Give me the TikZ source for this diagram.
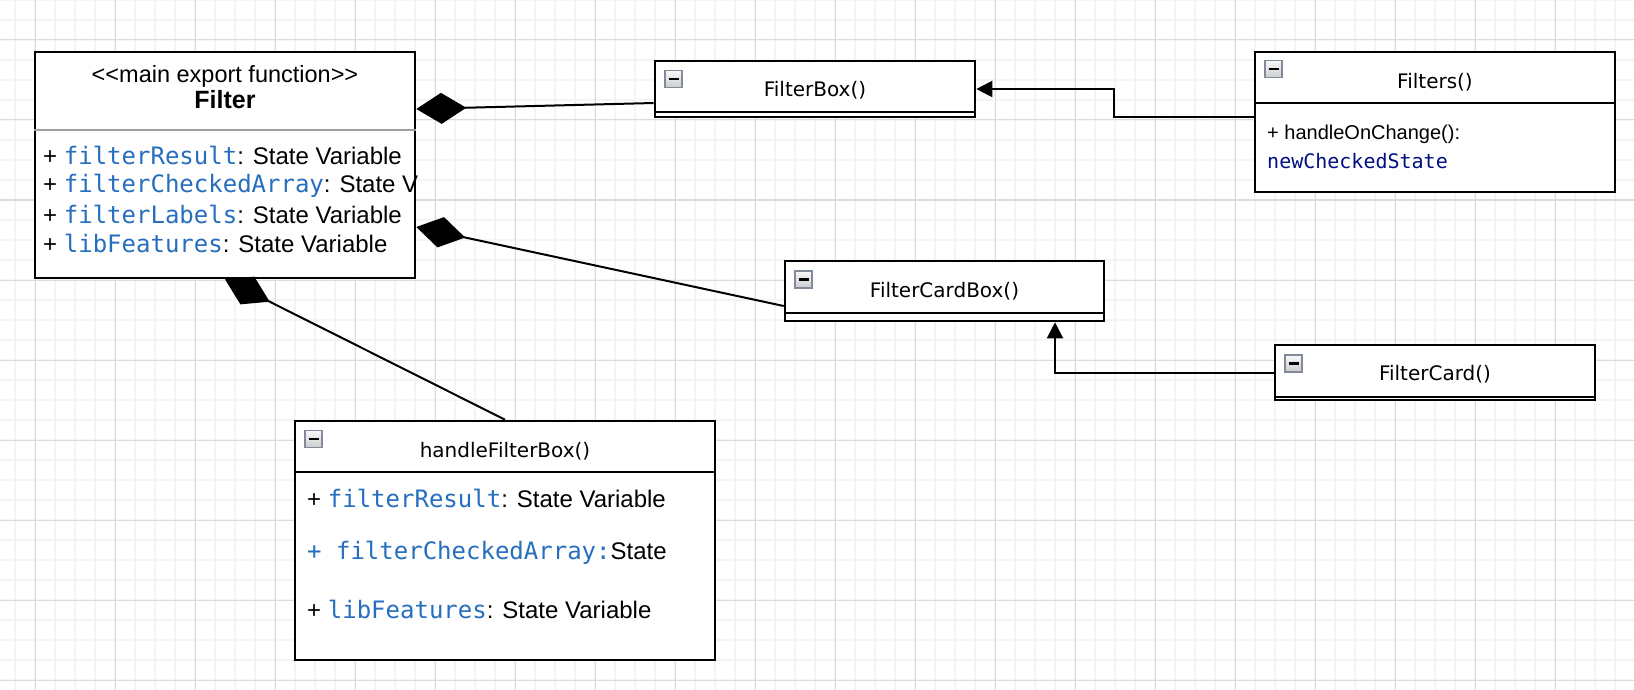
\documentclass[tikz,border=0pt]{standalone}
\usepackage{fontspec}
\setmainfont{Liberation Sans}
\newfontfamily\titlefont{DejaVu Sans}
\newfontfamily\codefont{DejaVu Sans Mono}
\usetikzlibrary{arrows.meta}

\definecolor{codeblue}{RGB}{38,110,190}
\definecolor{codenavy}{RGB}{0,16,128}
\definecolor{icongray}{RGB}{128,138,152}
\newcommand{\code}[1]{{\codefont\color{codeblue}#1}}

\tikzset{
  gridminor/.style={draw=gray!9, line width=1.2pt},
  gridmajor/.style={draw=gray!28, line width=1pt},
  umlbox/.style={draw, line width=2.6pt, fill=white, inner sep=0pt},
  umlsep/.style={line width=2pt},
  minusicon/.style={draw=icongray, line width=1.2pt, top color=gray!5, bottom color=gray!40, minimum size=17pt, inner sep=0pt},
  classname/.style={anchor=base, inner sep=0pt, font=\titlefont\fontsize{20}{24}\selectfont},
  attr/.style={anchor=base west, inner sep=0pt, font=\fontsize{24}{28}\selectfont},
  comp/.style={line width=2pt, {Diamond[length=50pt,width=31pt]}-},
  assoc/.style={line width=2pt, -{Triangle[length=16pt,width=16pt]}},
}

\begin{document}
\begin{tikzpicture}[x=1pt, y=-1pt]
  \fill[white] (0,0) rectangle (1634,690);
  \useasboundingbox (0,0) rectangle (1634,690);
  % grid
  \foreach \gx in {15,35,...,1634} \draw[gridminor] (\gx,0) -- (\gx,690);
  \foreach \gy in {0,20,...,690} \draw[gridminor] (0,\gy) -- (1634,\gy);
  \foreach \gx in {35,115,...,1634} \draw[gridmajor] (\gx,0) -- (\gx,690);
  \foreach \gy in {40,120,...,690} \draw[gridmajor] (0,\gy) -- (1634,\gy);

  % main class
  \node[umlbox, minimum width=380pt, minimum height=226pt] (filter) at (225,165) {};
  \draw[gray!75, line width=2pt] (filter.west |- 0,130) -- (filter.east |- 0,130);
  \node[anchor=base, inner sep=0pt, font=\fontsize{23.5}{28}\selectfont] (stereo) at (225,83) {<{}<main export function>{}>};
  \node[anchor=base, inner sep=0pt, font=\bfseries\fontsize{25}{30}\selectfont] (filtername) at (225,109) {Filter};
  \node[attr] (fresult) at (43,165) {+ \code{filterResult}: State Variable};
  \node[attr] (fchecked) at (43,193) {+ \code{filterCheckedArray}: State V};
  \node[attr] (flabels) at (43,223) {+ \code{filterLabels}: State Variable};
  \node[attr] (ffeatures) at (43,252) {+ \code{libFeatures}: State Variable};

  % FilterBox
  \node[umlbox, minimum width=320pt, minimum height=56pt] (filterbox) at (815,89) {};
  \draw[umlsep] (filterbox.west |- 0,112.5) -- (filterbox.east |- 0,112.5);
  \node[minusicon] (filterboxicon) at (673.5,79) {\rule{10pt}{2.2pt}};
  \node[classname] (filterboxname) at (815,97) {FilterBox()};

  % Filters
  \node[umlbox, minimum width=360pt, minimum height=140pt] (filters) at (1435,122) {};
  \draw[line width=2.6pt] (filters.west |- 0,103) -- (filters.east |- 0,103);
  \node[minusicon] (filtersicon) at (1273.5,69) {\rule{10pt}{2.2pt}};
  \node[classname] (filtersname) at (1435,89) {Filters()};
  \node[attr, font=\fontsize{20}{24}\selectfont] (onchange) at (1267,140) {+ handleOnChange():};
  \node[attr, font=\codefont\fontsize{20}{24}\selectfont, text=codenavy] (newstate) at (1267,168) {newCheckedState};

  % FilterCardBox
  \node[umlbox, minimum width=319pt, minimum height=60pt] (filtercardbox) at (944.5,291) {};
  \draw[umlsep] (filtercardbox.west |- 0,313) -- (filtercardbox.east |- 0,313);
  \node[minusicon] (filtercardboxicon) at (803.5,279.5) {\rule{10pt}{2.2pt}};
  \node[classname] (filtercardboxname) at (944.5,297) {FilterCardBox()};

  % FilterCard
  \node[umlbox, minimum width=320pt, minimum height=55pt] (filtercard) at (1435,372.5) {};
  \draw[umlsep] (filtercard.west |- 0,396.5) -- (filtercard.east |- 0,396.5);
  \node[minusicon] (filtercardicon) at (1293.5,363.5) {\rule{10pt}{2.2pt}};
  \node[classname] (filtercardname) at (1435,380) {FilterCard()};

  % handleFilterBox
  \node[umlbox, minimum width=420pt, minimum height=239pt] (handlefilterbox) at (505,540.5) {};
  \draw[line width=2.6pt] (handlefilterbox.west |- 0,472) -- (handlefilterbox.east |- 0,472);
  \node[minusicon] (handleicon) at (313.5,439) {\rule{10pt}{2.2pt}};
  \node[classname] (handlename) at (505,457) {handleFilterBox()};
  \node[attr] (hresult) at (307,507) {+ \code{filterResult}: State Variable};
  \node[attr] (hchecked) at (307,559) {\code{+ filterCheckedArray:}State};
  \node[attr] (hfeatures) at (307,618) {+ \code{libFeatures}: State Variable};

  % connectors
  \draw[comp] ([yshift=56pt]filter.east) -- ([yshift=-14pt]filterbox.west);
  \draw[comp] ([yshift=-62pt]filter.east) -- ([yshift=-15pt]filtercardbox.west);
  \draw[comp] (filter.south) -- (handlefilterbox.north);
  \draw[assoc] ([yshift=5pt]filters.west) -- ++(-140,0) |- (filterbox.east);
  \draw[assoc] (filtercard.west) -| ([xshift=110.5pt]filtercardbox.south);
\end{tikzpicture}
\end{document}
